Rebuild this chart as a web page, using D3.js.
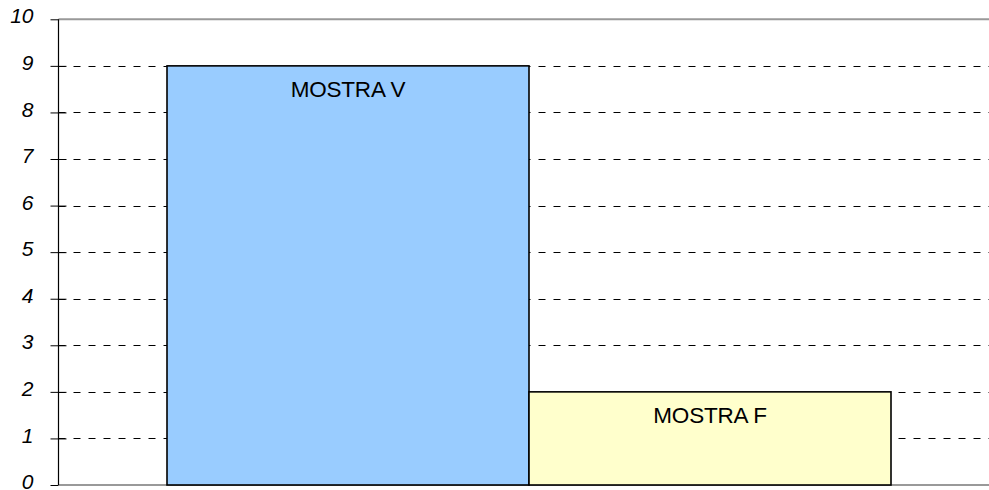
<!DOCTYPE html>
<html>
<head>
<meta charset="utf-8">
<script src="https://cdn.jsdelivr.net/npm/d3@7"></script>
<style>
  html, body { margin: 0; padding: 0; background: #fff; }
  svg { display: block; }
</style>
</head>
<body>
<div id="chart"></div>
<script>
// data
const categories = ["MOSTRA V", "MOSTRA F"];
const values = [9, 2];
const barColors = ["#99ccff", "#ffffcc"];
const yTicks = [0, 1, 2, 3, 4, 5, 6, 7, 8, 9, 10];

const W = 989, H = 490;
const plot = { left: 58.5, right: 989, top: 19.3, bottom: 485 };

const svg = d3.select("#chart").append("svg")
  .attr("width", W)
  .attr("height", H);

// scales
const y = d3.scaleLinear()
  .domain([0, 10])
  .range([plot.bottom, plot.top]);

const x = d3.scaleBand()
  .domain(categories)
  .range([167, 891])
  .paddingInner(0)
  .paddingOuter(0);

// dashed gridlines (1..9)
svg.append("g")
  .selectAll("line")
  .data(yTicks.filter(d => d > 0 && d < 10))
  .enter()
  .append("line")
  .attr("x1", plot.left)
  .attr("x2", plot.right)
  .attr("y1", d => Math.round(y(d)) + 0.5)
  .attr("y2", d => Math.round(y(d)) + 0.5)
  .attr("stroke", "#000")
  .attr("stroke-width", 1)
  .attr("stroke-dasharray", "7,8");

// top and bottom gray lines
svg.append("g")
  .selectAll("line")
  .data([0, 10])
  .enter()
  .append("line")
  .attr("x1", plot.left)
  .attr("x2", plot.right)
  .attr("y1", d => y(d))
  .attr("y2", d => y(d))
  .attr("stroke", "#999")
  .attr("stroke-width", 2);

// bars
svg.append("g")
  .selectAll("rect")
  .data(values)
  .enter()
  .append("rect")
  .attr("x", (d, i) => x(categories[i]))
  .attr("y", d => y(d))
  .attr("width", x.bandwidth())
  .attr("height", d => y(0) - y(d))
  .attr("fill", (d, i) => barColors[i])
  .attr("stroke", "#000")
  .attr("stroke-width", 1.6);

// bar labels
svg.append("g")
  .selectAll("text")
  .data(values)
  .enter()
  .append("text")
  .attr("x", (d, i) => x(categories[i]) + x.bandwidth() / 2)
  .attr("y", d => y(d) + 31)
  .attr("text-anchor", "middle")
  .style("font-family", "'Liberation Sans', Arial, sans-serif")
  .style("font-size", "22.5px")
  .style("letter-spacing", "-0.2px")
  .attr("fill", "#000")
  .text((d, i) => categories[i]);

// y axis
const yAxis = d3.axisLeft(y)
  .tickValues(yTicks)
  .tickSize(8)
  .tickPadding(17)
  .tickFormat(d3.format("d"));

const ax = svg.append("g")
  .attr("transform", `translate(${plot.left}, 0)`)
  .call(yAxis);

ax.select(".domain")
  .attr("d", `M0,${plot.top}V${plot.bottom}`)
  .attr("stroke", "#000")
  .attr("stroke-width", 1.2);

ax.selectAll(".tick line")
  .attr("x1", -8)
  .attr("x2", d => (d === 0 || d === 10) ? 0 : 8)
  .attr("stroke", "#000");

ax.selectAll(".tick text")
  .attr("dy", "0.17em")
  .style("font-family", "'Liberation Sans', Arial, sans-serif")
  .style("font-size", "21px")
  .style("font-style", "italic")
  .attr("fill", "#000");
</script>
</body>
</html>
